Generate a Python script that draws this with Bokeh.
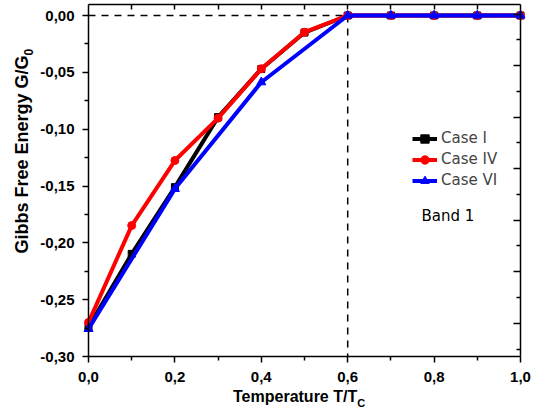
import math
from bokeh.plotting import figure
from bokeh.models import (LinearAxis, Range1d, FixedTicker, Legend, LegendItem, Label)
from bokeh.embed import file_html
from bokeh.resources import INLINE

# ---- data ----
x_case1 = [0.0, 0.1, 0.2, 0.3, 0.4, 0.5, 0.6, 0.7, 0.8, 0.9, 1.0]
g_case1 = [-0.274, -0.2097, -0.151, -0.0894, -0.047, -0.015, 0.0, 0.0, 0.0, 0.0, 0.0]

x_case4 = [0.0, 0.1, 0.2, 0.3, 0.4, 0.5, 0.6, 0.7, 0.8, 0.9, 1.0]
g_case4 = [-0.270, -0.1848, -0.1276, -0.0903, -0.0469, -0.0147, 0.0, 0.0, 0.0, 0.0, 0.0]

x_case6 = [0.0, 0.2, 0.4, 0.6, 0.7, 0.8, 0.9, 1.0]
g_case6 = [-0.2757, -0.1525, -0.0587, 0.0, 0.0, 0.0, 0.0, 0.0]

t_c = 0.6            # transition temperature T/Tc
g_zero = 0.0

x_ticks = [0.0, 0.2, 0.4, 0.6, 0.8, 1.0]
x_tick_labels = ["0,0", "0,2", "0,4", "0,6", "0,8", "1,0"]
x_minor = [0.1, 0.3, 0.5, 0.7, 0.9]
y_ticks = [0.0, -0.05, -0.10, -0.15, -0.20, -0.25, -0.30]
y_tick_labels = ["0,00", "-0,05", "-0,10", "-0,15", "-0,20", "-0,25", "-0,30"]
y_minor = [-0.025, -0.075, -0.125, -0.175, -0.225, -0.275]
r_major = [0, -2, -4, -6, -8, -10, -12]
r_minor = [-1, -3, -5, -7, -9, -11, -13]

# ---- layout geometry (pixels) ----
W, H = 540, 412
X0_PX, X_SCALE = 88.0, 432.0        # px of x=0, px per unit x
Y0_PX, Y_SCALE = 15.0, 1136.7       # px of y=0, px per unit y
R0_PX, R_SCALE = 13.5, 25.77        # right-axis layer
X_LO, X_HI = 0.0, 1.0
Y_LO, Y_HI = -0.30, 0.0097
R_LO, R_HI = -13.29, 0.369

FONT = "Liberation Sans"

p = figure(width=W, height=H, output_backend="svg", toolbar_location=None,
           x_range=Range1d(-X0_PX / X_SCALE, (W - X0_PX) / X_SCALE),
           y_range=Range1d(-(H - Y0_PX) / Y_SCALE, Y0_PX / Y_SCALE),
           x_axis_type=None, y_axis_type=None,
           min_border_left=0, min_border_right=0, min_border_top=0, min_border_bottom=0)
p.outline_line_color = None
p.background_fill_color = "white"
p.border_fill_color = "white"
p.extra_y_ranges = {"right": Range1d(-(H - R0_PX) / R_SCALE, R0_PX / R_SCALE)}


def style_axis(ax):
    ax.axis_line_color = "black"
    ax.axis_line_width = 1.5
    ax.major_tick_line_color = "black"
    ax.major_tick_line_width = 1.5
    ax.minor_tick_line_color = "black"
    ax.minor_tick_line_width = 1.5
    ax.major_label_text_font = FONT
    ax.major_label_text_font_style = "bold"
    ax.major_label_text_font_size = "15px"
    ax.major_label_text_color = "black"


# bottom axis
xb = LinearAxis(ticker=FixedTicker(ticks=x_ticks, minor_ticks=x_minor),
                fixed_location=Y_LO, bounds=(X_LO, X_HI))
style_axis(xb)
xb.major_tick_out = 6
xb.major_tick_in = 0
xb.minor_tick_out = 4
xb.minor_tick_in = 0
xb.major_label_standoff = 9
xb.major_label_overrides = {t: s for t, s in zip(x_ticks, x_tick_labels)}
p.add_layout(xb, "below")

# left axis
yl = LinearAxis(ticker=FixedTicker(ticks=y_ticks, minor_ticks=y_minor),
                fixed_location=X_LO, bounds=(Y_LO, Y_HI))
style_axis(yl)
yl.major_tick_out = 6
yl.major_tick_in = 0
yl.minor_tick_out = 4
yl.minor_tick_in = 0
yl.major_label_standoff = 8
yl.major_label_overrides = {t: s for t, s in zip(y_ticks, y_tick_labels)}
p.add_layout(yl, "left")

# top axis (ticks inward, no labels)
top_ticks = sorted(x_minor + x_ticks[1:-1])
xt = LinearAxis(ticker=FixedTicker(ticks=top_ticks, minor_ticks=[]),
                fixed_location=Y_HI, bounds=(X_LO, X_HI))
style_axis(xt)
xt.major_tick_out = 0
xt.major_tick_in = 5
xt.major_label_overrides = {t: "" for t in top_ticks}
p.add_layout(xt, "above")

# right axis (separate layer scale, ticks inward, no labels)
yr = LinearAxis(y_range_name="right",
                ticker=FixedTicker(ticks=r_major, minor_ticks=r_minor),
                fixed_location=X_HI, bounds=(R_LO, R_HI))
style_axis(yr)
yr.major_tick_out = 0
yr.major_tick_in = 7
yr.minor_tick_out = 0
yr.minor_tick_in = 4
yr.major_label_overrides = {t: "" for t in r_major}
p.add_layout(yr, "right")

# dashed guides
p.line([X_LO, t_c], [g_zero, g_zero], line_color="black", line_width=1.5, line_dash="7 6")
p.line([t_c, t_c], [g_zero, Y_LO], line_color="black", line_width=1.5, line_dash="7 6")

# series
l1 = p.line(x_case1, g_case1, line_color="black", line_width=4)
s1 = p.scatter(x_case1, g_case1, marker="square", size=7, fill_color="black", line_color="black")
l4 = p.line(x_case4, g_case4, line_color="#ff0000", line_width=4)
s4 = p.scatter(x_case4, g_case4, marker="circle", size=8, fill_color="#ff0000", line_color="#ff0000")
l6 = p.line(x_case6, g_case6, line_color="#0000ff", line_width=4)
s6 = p.scatter(x_case6, g_case6, marker="triangle", size=9, fill_color="#0000ff", line_color="#0000ff")

legend = Legend(items=[LegendItem(label="Case I", renderers=[l1, s1]),
                       LegendItem(label="Case IV", renderers=[l4, s4]),
                       LegendItem(label="Case VI", renderers=[l6, s6])],
                location=(412, H - 190.5))
legend.label_text_font = "DejaVu Sans"
legend.label_text_font_size = "15px"
legend.glyph_width = 25
legend.glyph_height = 21
legend.label_height = 21
legend.spacing = 0
legend.padding = 0
legend.margin = 0
legend.label_standoff = 4
legend.border_line_color = None
legend.background_fill_alpha = 0
p.add_layout(legend)

p.add_layout(Label(x=0.771, y=-0.1768, text="Band 1", text_font="DejaVu Sans",
                   text_font_size="15px", text_baseline="middle", text_align="left",
                   text_color="black"))

# axis titles (with subscripts)
p.add_layout(Label(x=0.622, y=-0.3352, text="Temperature T/T", text_font=FONT,
                   text_font_style="bold", text_font_size="16px", text_align="right",
                   text_baseline="alphabetic", text_color="black"))
p.add_layout(Label(x=0.622, y=-0.3352, y_offset=-6, text="C", text_font=FONT,
                   text_font_style="bold", text_font_size="11px", text_align="left",
                   text_baseline="alphabetic", text_color="black"))
p.add_layout(Label(x=-0.1544, y=-0.0352, angle=math.pi / 2, text="Gibbs Free Energy G/G",
                   text_font=FONT, text_font_style="bold", text_font_size="18px",
                   text_align="right", text_baseline="alphabetic", text_color="black"))
p.add_layout(Label(x=-0.1544, y=-0.0352, x_offset=6.5, angle=math.pi / 2, text="0",
                   text_font=FONT, text_font_style="bold", text_font_size="12px",
                   text_align="left", text_baseline="alphabetic", text_color="black"))

open("out.html", "w").write(file_html(p, INLINE))
